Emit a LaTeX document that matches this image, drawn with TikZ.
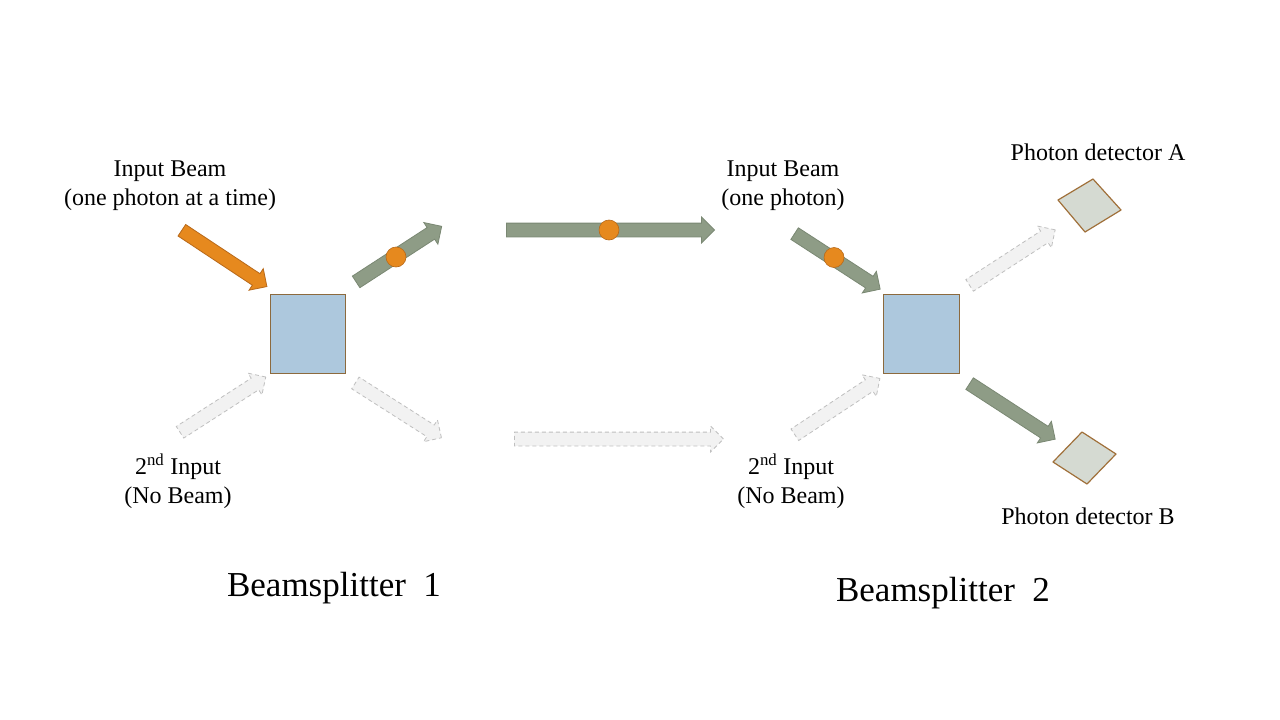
\documentclass[tikz,border=0pt]{standalone}
\usepackage{fontspec}
\setmainfont{Liberation Serif}
\usetikzlibrary{shapes.arrows,shapes.geometric}
\definecolor{bsblue}{HTML}{ADC8DD}
\definecolor{bsborder}{HTML}{8C6A3E}
\definecolor{detborder}{HTML}{A0703A}
\definecolor{beamgreen}{HTML}{8E9C86}
\definecolor{beamgreenb}{HTML}{7A8873}
\definecolor{beamorange}{HTML}{E6891E}
\definecolor{beamorangeb}{HTML}{B8691A}
\definecolor{ghostfill}{HTML}{F2F2F2}
\definecolor{ghostline}{HTML}{BFBFBF}
\definecolor{detfill}{HTML}{D5DAD2}
\tikzset{
  beam/.style={single arrow, inner sep=6.5pt, single arrow head extend=6pt,
    single arrow tip angle=90, minimum height=102pt, minimum width=0pt, line width=0.8pt},
  greenbeam/.style={beam, fill=beamgreen, draw=beamgreenb},
  orangebeam/.style={beam, fill=beamorange, draw=beamorangeb},
  ghostbeam/.style={beam, fill=ghostfill, draw=ghostline, dashed, dash pattern=on 4pt off 3pt},
  splitter/.style={rectangle, fill=bsblue, draw=bsborder, line width=0.8pt,
    minimum width=75pt, minimum height=79pt, inner sep=0pt},
  detector/.style={fill=detfill, draw=detborder, line width=1.2pt, line join=round},
  photon/.style={circle, fill=beamorange, draw=beamorangeb, line width=0.6pt,
    minimum size=20pt, inner sep=0pt},
  lbl/.style={align=center, font=\fontsize{24}{29}\selectfont, inner sep=0pt},
  title/.style={font=\fontsize{35}{40}\selectfont, inner sep=0pt}
}
\begin{document}
\begin{tikzpicture}[x=1pt,y=-1pt]
\useasboundingbox (0,0) rectangle (1280,720);
\fill[white] (0,0) rectangle (1280,720);

% Beamsplitter 1
\node[splitter] (bs1) at (307.5,333.5) {};
\node[orangebeam, rotate=-33.5] (in1) at (221.5,256.5) {};
\node[greenbeam, rotate=33] (out1a) at (396,256) {};
\node[photon] (ph1) at (396,257) {};
\node[ghostbeam, rotate=32.8] (in1b) at (220,406.5) {};
\node[ghostbeam, rotate=-32.5] (out1b) at (395.5,408.5) {};

% transfer beams
\node[greenbeam, minimum height=208pt] (mid1) at (607,230) {};
\node[photon] (ph2) at (609,230) {};
\node[ghostbeam, minimum height=209pt] (mid2) at (615.5,439) {};

% Beamsplitter 2
\node[splitter, minimum width=76pt] (bs2) at (921,333.5) {};
\node[greenbeam, rotate=-33] (in2) at (834.5,259.5) {};
\node[photon] (ph3) at (834,257.5) {};
\node[ghostbeam, rotate=33] (out2a) at (1009.5,259.5) {};
\node[ghostbeam, rotate=33.5] (in2b) at (834.5,408.5) {};
\node[greenbeam, rotate=-33] (out2b) at (1009.5,409.5) {};

% detectors
\draw[detector] (1058,200) -- (1093,179) -- (1121,210) -- (1085,232) -- cycle;
\draw[detector] (1053,462) -- (1082,432) -- (1116,454) -- (1087,484) -- cycle;

% labels
\node[lbl] (t1) at (170,186) {Input Beam\\(one photon at a time)};
\node[lbl] (t2) at (178,481) {2\textsuperscript{nd} Input\\(No Beam)};
\node[title] (t3) at (334,588) {Beamsplitter\hspace{0.5em}1};
\node[lbl] (t4) at (783,186) {Input Beam\\(one photon)};
\node[lbl] (t5) at (791,481) {2\textsuperscript{nd} Input\\(No Beam)};
\node[lbl] (t6) at (1098,152) {Photon detector A};
\node[lbl] (t7) at (1088,516) {Photon detector B};
\node[title] (t8) at (943,593) {Beamsplitter\hspace{0.5em}2};
\end{tikzpicture}
\end{document}
